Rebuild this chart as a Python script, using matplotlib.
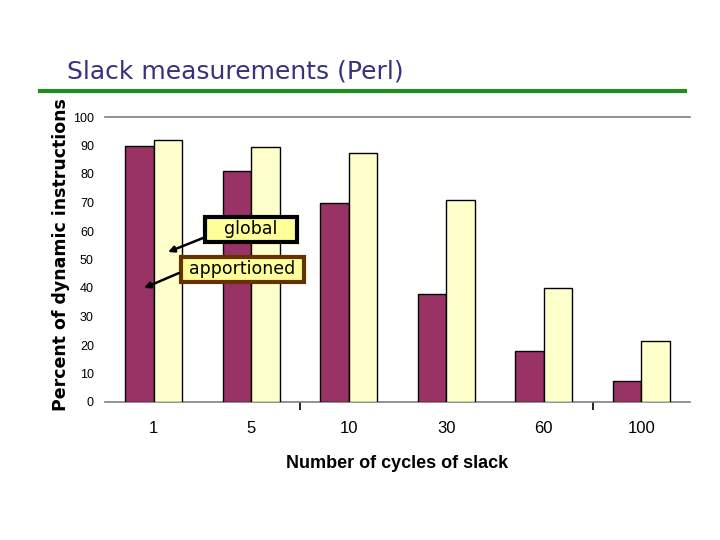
import matplotlib
matplotlib.use("Agg")
import matplotlib.pyplot as plt
from matplotlib.patches import Rectangle, FancyArrowPatch
import numpy as np

categories = ["1", "5", "10", "30", "60", "100"]
global_vals = [90, 81, 70, 38, 18, 7.5]
apportioned_vals = [92, 89.5, 87.5, 71, 40, 21.5]
yticks = [0, 10, 20, 30, 40, 50, 60, 70, 80, 90, 100]

W, H = 720, 540
fig = plt.figure(figsize=(7.2, 5.4), dpi=100)
fig.patch.set_facecolor("white")

ax = fig.add_axes([105/W, 1 - 402/H, 585/W, 285/H])
x = np.arange(len(categories))
w = 0.29
ax.bar(x - w/2, global_vals, w, color="#993366", edgecolor="black", linewidth=1.0, zorder=3)
ax.bar(x + w/2, apportioned_vals, w, color="#FFFFCC", edgecolor="black", linewidth=1.0, zorder=3)

ax.set_xlim(-0.5, len(categories) - 0.5)
ax.set_ylim(0, 100)
for s in ["top", "right", "left"]:
    ax.spines[s].set_visible(False)
ax.spines["bottom"].set_color("#808080")
ax.spines["bottom"].set_linewidth(1.2)
ax.axhline(100, color="#808080", linewidth=1.2, zorder=1, clip_on=False)

ax.set_yticks(yticks)
ax.set_yticklabels([str(t) for t in yticks], fontsize=9, family="Liberation Sans")
ax.tick_params(axis="y", length=0, pad=8)

ax.set_xticks(x)
ax.set_xticklabels(categories, fontsize=12, family="Liberation Sans")
ax.tick_params(axis="x", length=0, pad=14)
ax.set_xticks([1.5, 4.5], minor=True)
ax.tick_params(axis="x", which="minor", length=6, width=1.2, color="#000000", direction="out")

ax.set_xlabel("Number of cycles of slack", fontsize=13, fontweight="bold",
              family="Liberation Sans")
ax.xaxis.set_label_coords(0.5, -(463 - 402) / 285)
ax.xaxis.label.set_va("center")
ax.set_ylabel("Percent of dynamic instructions", fontsize=12.5, fontweight="bold",
              family="DejaVu Sans")
ax.yaxis.set_label_coords(-(105 - 61) / 585, (402 - 255) / 285)
ax.yaxis.label.set_va("center")

# Title and green rule
fig.text(67/W, 1 - 72/H, "Slack measurements (Perl)", fontsize=18, color="#333380",
         family="DejaVu Sans", va="center", ha="left")
fig.add_artist(plt.Line2D([40/W, 685/W], [1 - 91/H, 1 - 91/H], color="#228B22", linewidth=3))

def fp(px, py):
    return (px / W, 1 - py / H)

def box(x0, y0, x1, y1, ec, label):
    r = Rectangle(fp(x0, y1), (x1 - x0) / W, (y1 - y0) / H, transform=fig.transFigure,
                  fc="#FFFF99", ec=ec, lw=3, zorder=6)
    fig.add_artist(r)
    fig.text(*fp((x0 + x1) / 2, (y0 + y1) / 2), label, ha="center", va="center",
             fontsize=12.5, family="DejaVu Sans", zorder=7)

def arrow(p0, p1):
    a = FancyArrowPatch(fp(*p0), fp(*p1), transform=fig.transFigure,
                        arrowstyle="-|>", mutation_scale=9, lw=1.8, color="black",
                        shrinkA=0, shrinkB=0, zorder=6)
    fig.add_artist(a)

box(204.5, 216.5, 296.5, 241.5, "black", "global")
box(180.5, 256.5, 303.5, 281.5, "#663300", "apportioned")
arrow((203, 238), (168, 252))
arrow((179, 273), (144, 288))

fig.savefig("out.png", dpi=100)
